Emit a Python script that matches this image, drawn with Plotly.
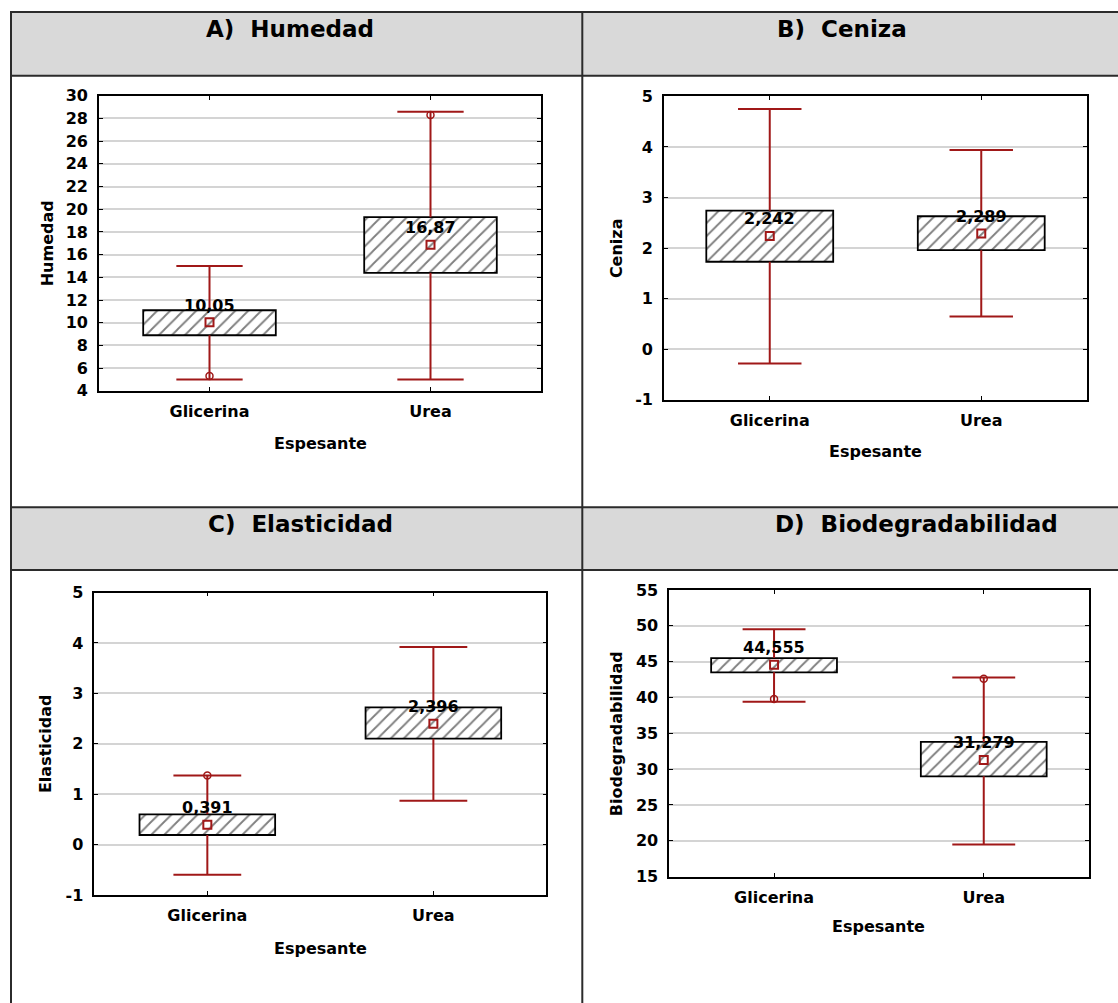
import plotly.graph_objects as go

# ---------------- data ----------------
categories = ["Glicerina", "Urea"]

humedad_mean = [10.05, 16.87]
humedad_box_low = [8.9, 14.4]
humedad_box_high = [11.1, 19.3]
humedad_whisk_low = [5.0, 5.0]
humedad_whisk_high = [15.0, 28.6]
humedad_points = [5.3, 28.3]

ceniza_mean = [2.242, 2.289]
ceniza_box_low = [1.73, 1.96]
ceniza_box_high = [2.74, 2.63]
ceniza_whisk_low = [-0.28, 0.65]
ceniza_whisk_high = [4.75, 3.94]
ceniza_points = [None, None]

elast_mean = [0.391, 2.396]
elast_box_low = [0.19, 2.1]
elast_box_high = [0.6, 2.72]
elast_whisk_low = [-0.6, 0.87]
elast_whisk_high = [1.37, 3.92]
elast_points = [1.37, None]

biodeg_mean = [44.555, 31.279]
biodeg_box_low = [43.5, 29.0]
biodeg_box_high = [45.5, 33.8]
biodeg_whisk_low = [39.4, 19.5]
biodeg_whisk_high = [49.5, 42.8]
biodeg_points = [39.8, 42.6]

humedad_ticks = [4, 6, 8, 10, 12, 14, 16, 18, 20, 22, 24, 26, 28, 30]
ceniza_ticks = [-1, 0, 1, 2, 3, 4, 5]
elast_ticks = [-1, 0, 1, 2, 3, 4, 5]
biodeg_ticks = [15, 20, 25, 30, 35, 40, 45, 50, 55]

x_title = "Espesante"

# ---------------- layout helpers ----------------
W, H = 1118, 1003
FONT = "DejaVu Sans"
RED = "#a01818"


def px(x):
    return x / W


def py(y):
    # vertical pixel position -> paper fraction
    return 1 - (y - 8) / (H - 16)


panels = [
    dict(title="A)\u00a0 Humedad", ytitle="Humedad", ticks=humedad_ticks,
         mean=humedad_mean, lo=humedad_box_low, hi=humedad_box_high,
         wlo=humedad_whisk_low, whi=humedad_whisk_high, pts=humedad_points,
         box=(99, 541, 95, 391), tpos=(290, 28), ytx=47, xty=444, ytsize=16),
    dict(title="B)\u00a0 Ceniza", ytitle="Ceniza", ticks=ceniza_ticks,
         mean=ceniza_mean, lo=ceniza_box_low, hi=ceniza_box_high,
         wlo=ceniza_whisk_low, whi=ceniza_whisk_high, pts=ceniza_points,
         box=(664, 1087, 95.7, 400), tpos=(841.7, 28), ytx=616, xty=451.7, ytsize=16),
    dict(title="C)\u00a0 Elasticidad", ytitle="Elasticidad", ticks=elast_ticks,
         mean=elast_mean, lo=elast_box_low, hi=elast_box_high,
         wlo=elast_whisk_low, whi=elast_whisk_high, pts=elast_points,
         box=(94.3, 546.4, 593.3, 896.7), tpos=(300.6, 525), ytx=45.3, xty=950, ytsize=16),
    dict(title="D)\u00a0 Biodegradabilidad", ytitle="Biodegradabilidad", ticks=biodeg_ticks,
         mean=biodeg_mean, lo=biodeg_box_low, hi=biodeg_box_high,
         wlo=biodeg_whisk_low, whi=biodeg_whisk_high, pts=biodeg_points,
         box=(669.2, 1088.6, 590.7, 878.3), tpos=(916.3, 525), ytx=616, xty=928.3, ytsize=16),
]

fig = go.Figure()
annotations = []
shapes = []

# table frame: gray header cells and lines
for (y0, y1) in [(11, 75), (507.7, 570.7)]:
    shapes.append(dict(type="rect", xref="paper", yref="paper",
                       x0=px(11), x1=1.01, y0=py(y1), y1=py(y0),
                       fillcolor="#d9d9d9", line=dict(color="#2b2b2b", width=2),
                       layer="below"))
for xv in [11, 582.3]:
    shapes.append(dict(type="line", xref="paper", yref="paper",
                       x0=px(xv), x1=px(xv), y0=py(11), y1=-0.02,
                       line=dict(color="#2b2b2b", width=2)))

cat_idx = list(range(len(categories)))
box_width = 0.6
cap_half = 0.15

for i, p in enumerate(panels):
    n = "" if i == 0 else str(i + 1)
    xa, ya = "x" + n, "y" + n
    xl, xr, yt, yb = p["box"]

    # whiskers (outside the box) + caps
    wx, wy = [], []
    for c, lo, hi, wlo, whi in zip(cat_idx, p["lo"], p["hi"], p["wlo"], p["whi"]):
        wx += [c, c, None, c, c, None]
        wy += [hi, whi, None, wlo, lo, None]
        wx += [c - cap_half, c + cap_half, None, c - cap_half, c + cap_half, None]
        wy += [whi, whi, None, wlo, wlo, None]
    fig.add_trace(go.Scatter(x=wx, y=wy, mode="lines", xaxis=xa, yaxis=ya,
                             line=dict(color=RED, width=2), hoverinfo="skip",
                             showlegend=False))

    # hatched boxes
    fig.add_trace(go.Bar(
        x=cat_idx, y=[h - l for h, l in zip(p["hi"], p["lo"])], base=p["lo"],
        width=box_width, xaxis=xa, yaxis=ya, showlegend=False,
        marker=dict(color="white", line=dict(color="black", width=1.8),
                    pattern=dict(shape="/", fgcolor="black", bgcolor="white",
                                 size=9.2, solidity=0.2)),
    ))

    # extra points
    ex = [c for c, v in zip(cat_idx, p["pts"]) if v is not None]
    ey = [v for v in p["pts"] if v is not None]
    if ex:
        fig.add_trace(go.Scatter(x=ex, y=ey, mode="markers", xaxis=xa, yaxis=ya,
                                 marker=dict(symbol="circle-open", size=7,
                                             color=RED, line=dict(width=1.5)),
                                 showlegend=False))

    # means
    fig.add_trace(go.Scatter(x=cat_idx, y=p["mean"], mode="markers", xaxis=xa, yaxis=ya,
                             marker=dict(symbol="square-open", size=8, color=RED,
                                         line=dict(width=2, color=RED)),
                             showlegend=False))
    for c, m in zip(cat_idx, p["mean"]):
        annotations.append(dict(x=c, y=m, xref=xa, yref=ya, yshift=17,
                                text=str(m).replace(".", ","), showarrow=False,
                                font=dict(family=FONT, size=16, color="black", weight="bold")))

    # axes
    tks = p["ticks"]
    fig.update_layout(**{
        "xaxis" + n: dict(domain=[px(xl), px(xr)],
                          anchor=ya, range=[-0.5, 1.5], tickmode="array",
                          tickvals=cat_idx, ticktext=categories,
                          showgrid=False, zeroline=False, showline=True, mirror="ticks",
                          linecolor="black", linewidth=1.6, ticks="inside", ticklen=4,
                          tickcolor="black", ticklabelstandoff=5,
                          tickfont=dict(family=FONT, size=16, color="black", weight="bold")),
        "yaxis" + n: dict(domain=[py(yb), py(yt)], anchor=xa, range=[tks[0], tks[-1]],
                          tickmode="array", tickvals=tks, ticktext=[str(t) for t in tks],
                          showgrid=True, gridcolor="#d4d4d4", gridwidth=1.5,
                          zeroline=False, showline=True, mirror="ticks",
                          linecolor="black", linewidth=1.6, ticks="inside", ticklen=4,
                          tickcolor="black", ticklabelstandoff=6,
                          tickfont=dict(family=FONT, size=16, color="black", weight="bold")),
    })

    # titles
    annotations.append(dict(x=px(p["tpos"][0]), y=py(p["tpos"][1]), xref="paper", yref="paper",
                            text=p["title"], showarrow=False, xanchor="center", yanchor="middle",
                            font=dict(family=FONT, size=23, color="black", weight="bold")))
    annotations.append(dict(x=px(p["ytx"]), y=0.5, xref="paper", yref=ya + " domain",
                            text=p["ytitle"], textangle=-90, showarrow=False,
                            xanchor="center", yanchor="middle",
                            font=dict(family=FONT, size=p["ytsize"], color="black", weight="bold")))
    annotations.append(dict(x=0.5, y=py(p["xty"]), xref=xa + " domain", yref="paper",
                            text=x_title, showarrow=False, xanchor="center", yanchor="middle",
                            font=dict(family=FONT, size=16, color="black", weight="bold")))

fig.update_layout(width=W, height=H, margin=dict(l=0, r=0, t=0, b=0),
                  paper_bgcolor="white", plot_bgcolor="white", showlegend=False,
                  barmode="overlay", shapes=shapes, annotations=annotations)

fig.write_html("out.html")
